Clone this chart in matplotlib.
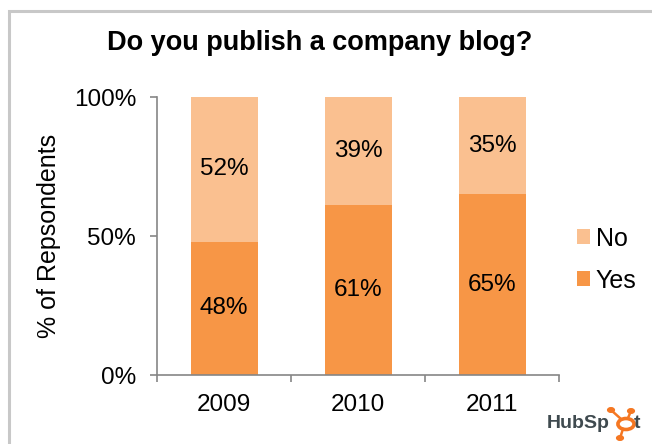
import matplotlib.pyplot as plt
from matplotlib.patches import Rectangle, Circle
from matplotlib.lines import Line2D

plt.rcParams['font.family'] = ['Liberation Sans', 'DejaVu Sans']

years = ['2009', '2010', '2011']
yes = [48, 61, 65]
no = [52, 39, 35]
yes_color = '#F79646'
no_color = '#FAC090'


def px(x, y):
    # pixel position (from top left) -> figure fraction
    return x / 652, 1 - y / 444


def draw_logo(fig):
    dark = '#3F4A4F'
    orange = '#F57722'
    fig.text(*px(547, 423), 'HubSp', ha='left', va='center',
             fontsize=14, fontweight='bold', color=dark)
    fig.text(*px(634, 423), 't', ha='left', va='center',
             fontsize=14, fontweight='bold', color=dark)
    cx, cy = px(626, 424)
    fig.patches.append(Circle((cx, cy), 5.5 / 444, transform=fig.transFigure,
                              fill=False, edgecolor=orange, linewidth=2.6))
    for (x0, y0), (x1, y1) in [((621, 419), (611, 410)), ((628, 418), (631, 411)),
                               ((623, 429), (620, 438))]:
        a, b = px(x0, y0), px(x1, y1)
        fig.lines.append(Line2D([a[0], b[0]], [a[1], b[1]], transform=fig.transFigure,
                                color=orange, linewidth=1.8))
    for bx, by in [(611, 410), (631, 411), (620, 438)]:
        fig.patches.append(Circle(px(bx, by), 2.3 / 444, transform=fig.transFigure,
                                  color=orange))


def make_chart():
    fig = plt.figure(figsize=(6.52, 4.44), dpi=100)
    # light gray frame, cut off on the right and bottom like the original
    fig.patches.append(Rectangle((9 / 652, -0.1), 1.2, 1 - 11 / 444 + 0.1,
                                 transform=fig.transFigure, fill=False,
                                 edgecolor='#C8C8C8', linewidth=2.2))
    ax = fig.add_axes([157 / 652, 1 - 375 / 444, 402 / 652, 278 / 444])
    x = list(range(len(years)))
    yes_frac = [v / 100 for v in yes]
    no_frac = [v / 100 for v in no]
    b1 = ax.bar(x, yes_frac, width=0.5, color=yes_color, label='Yes')
    b2 = ax.bar(x, no_frac, width=0.5, bottom=yes_frac, color=no_color, label='No')
    for i in x:
        ax.text(i, yes_frac[i] / 2, f"{yes[i]}%", ha='center', va='center', fontsize=17.5)
        ax.text(i, yes_frac[i] + no_frac[i] / 2, f"{no[i]}%", ha='center', va='center',
                fontsize=17.5)

    ax.set_xlim(-0.5, len(years) - 0.5)
    ax.set_ylim(0, 1)
    ax.set_yticks([0, 0.5, 1])
    ax.set_yticklabels(['0%', '50%', '100%'], fontsize=17.5)
    ax.set_xticks(x)
    ax.set_xticklabels(years, fontsize=17.5)
    ax.set_xticks([i - 0.5 for i in range(len(years) + 1)], minor=True)
    ax.tick_params(axis='x', which='major', length=0, pad=14)
    ax.tick_params(axis='x', which='minor', length=5, color='#868686', width=1.2)
    ax.tick_params(axis='y', length=5, color='#868686', width=1.2, pad=10)
    for s in ['top', 'right']:
        ax.spines[s].set_visible(False)
    for s in ['left', 'bottom']:
        ax.spines[s].set_color('#868686')
        ax.spines[s].set_linewidth(1.2)
    ax.set_ylabel('% of Repsondents', fontsize=18, labelpad=9)

    fig.text(*px(320, 43), 'Do you publish a company blog?',
             ha='center', va='center', fontsize=19.5, fontweight='bold')

    ax.legend([b2, b1], ['No', 'Yes'], loc='center left', bbox_to_anchor=(1.013, 0.415),
              frameon=False, fontsize=18, borderpad=0, handlelength=0.52,
              handleheight=0.52, handletextpad=0.25, labelspacing=0.72)

    draw_logo(fig)
    fig.savefig('out.png', dpi=100)


make_chart()
